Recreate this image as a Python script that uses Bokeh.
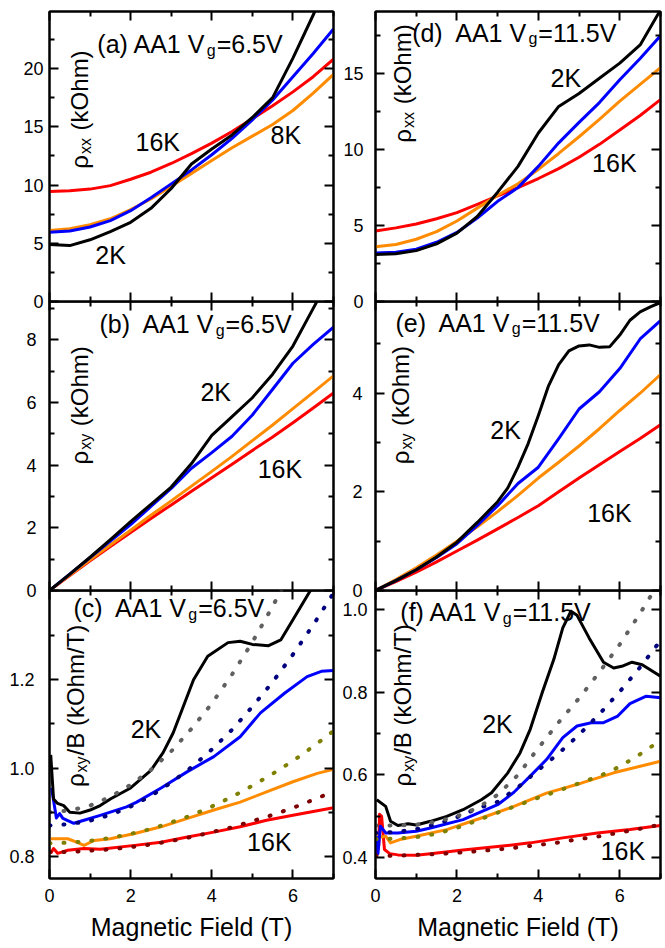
import math
from bokeh.plotting import figure
from bokeh.models import LinearAxis, Label, FixedTicker, PrintfTickFormatter, Range1d
from bokeh.layouts import column, row
from bokeh.embed import file_html
from bokeh.resources import INLINE

# ---------------- data ----------------
T_grid = [0, 0.5, 1, 1.5, 2, 2.5, 3, 3.5, 4, 4.5, 5, 5.5, 6, 6.5, 7]

# (a) rho_xx, Vg = 6.5 V
a_2K = [4.9, 4.8, 5.3, 6.0, 6.8, 8.0, 9.7, 11.8, 13.1, 14.3, 15.8, 17.5, 20.9, 24.6, 28.5]
a_4K = [5.95, 6.05, 6.4, 6.95, 7.8, 8.9, 10.1, 11.3, 12.6, 14.0, 15.6, 17.3, 19.3, 21.3, 23.4]
a_8K = [6.1, 6.25, 6.6, 7.1, 7.9, 8.8, 9.9, 11.0, 12.1, 13.2, 14.2, 15.2, 16.4, 17.9, 19.5]
a_16K = [9.45, 9.5, 9.65, 9.95, 10.5, 11.1, 11.85, 12.7, 13.6, 14.6, 15.7, 16.8, 18.0, 19.3, 20.8]

# (b) rho_xy, Vg = 6.5 V
b_2K = [0, 0.52, 1.06, 1.62, 2.2, 2.75, 3.3, 4.05, 4.95, 5.55, 6.15, 6.9, 7.8, 9.0, 10.2]
b_4K = [0, 0.52, 1.05, 1.58, 2.1, 2.68, 3.26, 3.9, 4.4, 4.92, 5.6, 6.42, 7.25, 7.85, 8.4]
b_8K = [0, 0.49, 0.98, 1.45, 1.92, 2.4, 2.86, 3.33, 3.8, 4.28, 4.78, 5.28, 5.8, 6.32, 6.85]
b_16K = [0, 0.48, 0.95, 1.4, 1.85, 2.3, 2.73, 3.17, 3.6, 4.03, 4.47, 4.9, 5.35, 5.82, 6.3]

# (c) rho_xy/B, Vg = 6.5 V
c_T_2K = [0.03, 0.1, 0.2, 0.35, 0.5, 0.75, 1.0, 1.25, 1.5, 2.0, 2.5, 2.8, 3.05, 3.3, 3.55,
          3.9, 4.4, 4.7, 5.0, 5.4, 5.7, 6.0, 6.45, 7.0]
c_2K = [1.03, 0.93, 0.92, 0.915, 0.9, 0.898, 0.905, 0.915, 0.93, 0.955, 0.995, 1.035, 1.08,
        1.14, 1.2, 1.253, 1.284, 1.287, 1.28, 1.277, 1.29, 1.336, 1.405, 1.5]
c_T_4K = [0.05, 0.17, 0.25, 0.33, 0.6, 0.85, 1.25, 1.9, 2.15, 2.75, 3.4, 4.05, 4.7, 5.2,
          5.8, 6.35, 6.7, 7.0]
c_4K = [0.955, 0.887, 0.897, 0.886, 0.875, 0.882, 0.893, 0.912, 0.923, 0.955, 0.992, 1.026,
        1.071, 1.125, 1.17, 1.207, 1.219, 1.221]
c_T_8K = [0.03, 0.45, 0.68, 0.85, 1.1, 1.5, 2.1, 2.75, 3.4, 4.05, 4.7, 5.35, 6.0, 6.6, 7.0]
c_8K = [0.84, 0.84, 0.832, 0.825, 0.836, 0.84, 0.852, 0.867, 0.886, 0.905, 0.923, 0.946,
        0.969, 0.988, 0.997]
c_T_16K = [0.03, 0.1, 0.2, 0.45, 0.85, 1.25, 2.1, 2.75, 3.4, 4.05, 4.7, 5.35, 6.0, 7.0]
c_16K = [0.807, 0.818, 0.807, 0.814, 0.818, 0.816, 0.825, 0.832, 0.844, 0.855, 0.867, 0.882,
         0.893, 0.91]
c_fit_2K = [0.9, 0.904, 0.915, 0.935, 0.962, 0.996, 1.038, 1.089, 1.146, 1.212, 1.285, 1.366,
            1.455, 1.55, 1.65]
c_fit_4K = [0.87, 0.873, 0.881, 0.894, 0.913, 0.937, 0.967, 1.002, 1.042, 1.087, 1.139, 1.195,
            1.257, 1.324, 1.396]
c_fit_8K = [0.83, 0.831, 0.835, 0.842, 0.851, 0.862, 0.877, 0.893, 0.913, 0.935, 0.96, 0.987,
            1.016, 1.049, 1.084]
c_fit_16K = [0.81, 0.81, 0.813, 0.816, 0.821, 0.827, 0.835, 0.844, 0.855, 0.866, 0.88, 0.894,
             0.91, 0.928, 0.947]

# (d) rho_xx, Vg = 11.5 V
d_2K = [3.1, 3.15, 3.35, 3.8, 4.5, 5.6, 7.2, 8.9, 11.1, 12.85, 13.7, 14.7, 15.7, 16.9, 19.2]
d_4K = [3.2, 3.25, 3.45, 3.9, 4.55, 5.5, 6.6, 7.5, 8.9, 10.45, 11.8, 13.1, 14.6, 16.0, 17.5]
d_8K = [3.6, 3.75, 4.1, 4.6, 5.3, 6.15, 7.0, 7.75, 8.7, 9.75, 10.85, 12.0, 13.2, 14.3, 15.4]
d_16K = [4.65, 4.85, 5.1, 5.45, 5.85, 6.4, 6.95, 7.5, 8.1, 8.75, 9.5, 10.35, 11.3, 12.25, 13.3]

# (e) rho_xy, Vg = 11.5 V
e_T_2K = [0, 0.5, 1, 1.5, 2, 2.5, 3, 3.25, 3.5, 3.75, 4, 4.25, 4.5, 4.75, 5, 5.25, 5.5, 5.75,
          6, 6.25, 6.5, 6.75, 7]
e_2K = [0, 0.2, 0.42, 0.68, 0.98, 1.38, 1.8, 2.08, 2.5, 2.98, 3.55, 4.15, 4.58, 4.86, 4.96,
        4.98, 4.93, 4.94, 5.18, 5.48, 5.65, 5.75, 5.84]
e_4K = [0, 0.2, 0.42, 0.67, 0.95, 1.32, 1.72, 2.17, 2.5, 3.08, 3.68, 4.03, 4.5, 5.1, 5.47]
e_8K = [0, 0.22, 0.46, 0.72, 1.0, 1.29, 1.6, 1.93, 2.28, 2.6, 2.93, 3.28, 3.65, 4.0, 4.38]
e_16K = [0, 0.18, 0.37, 0.58, 0.8, 1.02, 1.25, 1.48, 1.72, 2.0, 2.28, 2.55, 2.82, 3.08, 3.36]

# (f) rho_xy/B, Vg = 11.5 V
f_T_2K = [0.03, 0.25, 0.37, 0.55, 0.8, 1.0, 1.35, 1.75, 2.15, 2.6, 2.85, 3.25, 3.55, 3.8,
          4.1, 4.38, 4.6, 4.8, 4.95, 5.25, 5.6, 5.85, 6.05, 6.3, 6.55, 7.0]
f_2K = [0.54, 0.524, 0.488, 0.478, 0.482, 0.479, 0.488, 0.5, 0.516, 0.54, 0.557, 0.605,
        0.653, 0.71, 0.8, 0.879, 0.955, 0.995, 0.985, 0.93, 0.872, 0.858, 0.862, 0.872,
        0.866, 0.838]
f_T_4K = [0.03, 0.06, 0.12, 0.25, 0.55, 1.0, 1.35, 2.15, 3.0, 3.4, 3.8, 4.2, 4.6, 4.95, 5.3,
          5.6, 5.95, 6.25, 6.65, 7.0]
f_4K = [0.452, 0.41, 0.476, 0.46, 0.46, 0.464, 0.472, 0.492, 0.528, 0.558, 0.597, 0.637,
        0.69, 0.718, 0.726, 0.726, 0.742, 0.772, 0.79, 0.786]
f_T_8K = [0.03, 0.15, 0.25, 0.37, 0.6, 1.0, 1.75, 2.6, 3.4, 4.2, 5.05, 5.85, 7.0]
f_8K = [0.46, 0.45, 0.452, 0.436, 0.444, 0.452, 0.468, 0.496, 0.524, 0.556, 0.58, 0.605, 0.633]
f_T_16K = [0.03, 0.08, 0.1, 0.15, 0.22, 0.35, 0.55, 1.0, 1.35, 2.15, 3.0, 3.8, 4.6, 5.45,
           6.25, 7.0]
f_16K = [0.41, 0.43, 0.505, 0.5, 0.42, 0.41, 0.407, 0.406, 0.41, 0.419, 0.427, 0.436, 0.448,
         0.46, 0.468, 0.478]
f_fit_2K = [0.478, 0.478, 0.48, 0.487, 0.5, 0.52, 0.552, 0.6, 0.665, 0.727, 0.785, 0.848,
            0.915, 0.99, 1.07]
f_fit_4K = [0.46, 0.462, 0.469, 0.481, 0.498, 0.519, 0.535, 0.57, 0.612, 0.652, 0.697, 0.747,
            0.801, 0.86, 0.924]
f_fit_8K = [0.445, 0.446, 0.45, 0.458, 0.472, 0.49, 0.509, 0.527, 0.545, 0.562, 0.58, 0.597,
            0.62, 0.65, 0.683]
f_fit_16K = [0.405, 0.405, 0.407, 0.409, 0.412, 0.416, 0.42, 0.425, 0.431, 0.437, 0.445, 0.452,
             0.461, 0.47, 0.48]

X_MAJOR = [0, 2, 4, 6]
X_MINOR = [1, 3, 5, 7]
X_LABEL = "Magnetic Field (T)"

# ---------------- style ----------------
FONT = "Liberation Sans"
C_2K, C_4K, C_8K, C_16K = "#000000", "#0000ff", "#ff8c00", "#ff0000"
F_2K, F_4K, F_8K, F_16K = "#606060", "#00007f", "#7f7f00", "#7f0000"
ANN = 25
YLB = 24
SUB = 16
SHIFT = 9  # compensates the text baseline placement

WID = {' ': 278, '\u00a0': 278, '(': 333, ')': 333, 'a': 556, 'b': 556, 'c': 500, 'd': 556,
       'e': 556, 'f': 278, 'g': 556, 'h': 556, 'k': 500, 'm': 833, 'x': 500, 'y': 500,
       'A': 667, 'B': 667, 'K': 667, 'O': 778, 'T': 611, 'V': 667, '1': 556, '2': 556,
       '5': 556, '6': 556, '8': 556, '.': 278, '=': 584, '/': 278, '\u03c1': 570}


def tw(s, size):
    return sum(WID.get(ch, 556) for ch in s) * size / 1000.0


def make_panel(col, rowi, yr, ymaj, ymin, fmt, standoff):
    left = col == 0
    width = 336 if left else 329
    bl = 49 if left else 39
    fw = 284 if left else 285
    br = width - bl - fw
    if rowi == 0:
        bt, fh, bb = 11, 290, 12
    elif rowi == 1:
        bt, fh, bb = 0, 289, 12
    else:
        bt, fh, bb = 0, 288, 70
    p = figure(width=width, height=bt + fh + bb, x_range=Range1d(0, 7), y_range=Range1d(*yr),
               toolbar_location=None, output_backend="svg",
               min_border_left=bl, min_border_right=br, min_border_top=bt, min_border_bottom=bb)
    p.border_fill_color = None
    p.background_fill_color = None
    p.outline_line_color = "black"
    p.outline_line_width = 2
    p.xgrid.visible = False
    p.ygrid.visible = False

    def style(ax, tin, tout, mtin, mtout, labels=True):
        ax.axis_line_color = "black"
        ax.axis_line_width = 2
        ax.major_tick_line_width = 2
        ax.minor_tick_line_width = 2
        ax.major_tick_in = tin
        ax.major_tick_out = tout
        ax.minor_tick_in = mtin
        ax.minor_tick_out = mtout
        ax.major_label_text_font = FONT
        if labels:
            ax.major_label_text_color = "black"
            ax.major_label_text_font_size = "18px"
        else:
            ax.major_label_text_color = None
            ax.major_label_text_font_size = "0px"
            ax.major_label_standoff = 0

    yt = FixedTicker(ticks=ymaj, minor_ticks=ymin)
    xt = FixedTicker(ticks=X_MAJOR, minor_ticks=X_MINOR)

    ya = p.yaxis[0]
    ya.ticker = yt
    ya.formatter = PrintfTickFormatter(format=fmt)
    style(ya, 9, 0, 5, 0)
    ya.major_label_standoff = standoff

    yr_ax = LinearAxis(ticker=yt)
    style(yr_ax, 9, 0, 5, 0, labels=False)
    p.add_layout(yr_ax, "right")

    xa = p.xaxis[0]
    xa.ticker = xt
    if rowi < 2:
        style(xa, 9, 9, 5, 5, labels=False)
    else:
        style(xa, 9, 0, 5, 0)
        xa.major_label_standoff = 10
        xa.axis_label = X_LABEL
        xa.axis_label_text_font = FONT
        xa.axis_label_text_font_size = "25px"
        xa.axis_label_text_font_style = "normal"
        xa.axis_label_text_color = "black"
        xa.axis_label_standoff = 8
    if rowi == 0:
        xt_ax = LinearAxis(ticker=xt)
        style(xt_ax, 9, 0, 5, 0, labels=False)
        p.add_layout(xt_ax, "above")
    return p


def lab(p, x, y, text, size=ANN, dx=0, dy=0, angle=0.0):
    p.add_layout(Label(x=x, y=y, text=text, text_font=FONT, text_font_size=f"{size}px",
                       text_color="black", x_offset=dx, y_offset=dy, angle=angle,
                       text_align="left", text_baseline="alphabetic"))


def ann(p, x, y, text):
    lab(p, x, y, text, dy=SHIFT)


def title(p, x, y, main, sub, tail):
    lab(p, x, y, main, dy=SHIFT)
    w = tw(main, ANN)
    lab(p, x, y, sub, SUB, dx=w + 1, dy=SHIFT - 6)
    lab(p, x, y, tail, dx=w + tw(sub, SUB) + 2, dy=SHIFT)


def ylab(p, x, y, sub, tail, gap):
    a = math.pi / 2
    lab(p, x, y, "\u03c1", YLB, dx=-SHIFT + 1, angle=a)
    w = tw("\u03c1", YLB)
    lab(p, x, y, sub, SUB, dx=-SHIFT + 7, dy=w + 1, angle=a)
    lab(p, x, y, tail, YLB, dx=-SHIFT + 1, dy=w + tw(sub, SUB) + gap + 2, angle=a)


def solid(p, xs, ys, c):
    p.line(xs, ys, line_color=c, line_width=3, line_join="round")


def dotted(p, xs, ys, c):
    p.line(xs, ys, line_color=c, line_width=4, line_dash="1 13", line_cap="round")


SPACE = tw(" ", YLB)

# ---- (a)
pa = make_panel(0, 0, (0, 24.9), [0, 5, 10, 15, 20], [2.5, 7.5, 12.5, 17.5, 22.5], "%d", 6)
for ys, c in ((a_16K, C_16K), (a_8K, C_8K), (a_4K, C_4K), (a_2K, C_2K)):
    solid(pa, T_grid, ys, c)
title(pa, 1.18, 21.3, "(a) AA1 V", "g", "=6.5V")
ann(pa, 2.12, 12.9, "16K")
ann(pa, 5.45, 13.5, "8K")
ann(pa, 1.13, 3.2, "2K")
ylab(pa, 0.94, 11.4, "xx", "(kOhm)", SPACE)

# ---- (b)
pb = make_panel(0, 1, (0, 9.22), [0, 2, 4, 6, 8], [1, 3, 5, 7, 9], "%d", 13)
for ys, c in ((b_16K, C_16K), (b_8K, C_8K), (b_4K, C_4K), (b_2K, C_2K)):
    solid(pb, T_grid, ys, c)
title(pb, 1.23, 8.2, "(b)\u00a0 AA1 V", "g", "=6.5V")
ann(pb, 3.72, 6.05, "2K")
ann(pb, 5.13, 3.58, "16K")
ylab(pb, 0.94, 4.02, "xy", "(kOhm)", SPACE)

# ---- (c)
pc = make_panel(0, 2, (0.75, 1.402), [0.8, 1.0, 1.2], [0.9, 1.1, 1.3], "%.1f", 15)
solid(pc, c_T_16K, c_16K, C_16K)
solid(pc, c_T_8K, c_8K, C_8K)
solid(pc, c_T_4K, c_4K, C_4K)
solid(pc, c_T_2K, c_2K, C_2K)
for ys, c in ((c_fit_16K, F_16K), (c_fit_8K, F_8K), (c_fit_4K, F_4K), (c_fit_2K, F_2K)):
    dotted(pc, T_grid, ys, c)
title(pc, 0.59, 1.342, "(c)\u00a0 AA1 V", "g", "=6.5V")
ann(pc, 2.0, 1.067, "2K")
ann(pc, 4.87, 0.812, "16K")
ylab(pc, 0.84, 0.957, "xy", "/B (kOhm/T)", 0)

# ---- (d)
pd_ = make_panel(1, 0, (0, 19.1), [0, 5, 10, 15], [2.5, 7.5, 12.5, 17.5], "%d", 12)
for ys, c in ((d_16K, C_16K), (d_8K, C_8K), (d_4K, C_4K), (d_2K, C_2K)):
    solid(pd_, T_grid, ys, c)
title(pd_, 0.9, 17.1, "(d)\u00a0 AA1 V", "g", "=11.5V")
ann(pd_, 4.3, 14.1, "2K")
ann(pd_, 5.32, 8.5, "16K")
ylab(pd_, 0.86, 10.46, "xx", "(kOhm)", SPACE)

# ---- (e)
pe = make_panel(1, 1, (0, 5.86), [0, 2, 4], [1, 3, 5], "%d", 13)
solid(pe, T_grid, e_16K, C_16K)
solid(pe, T_grid, e_8K, C_8K)
solid(pe, T_grid, e_4K, C_4K)
solid(pe, e_T_2K, e_2K, C_2K)
title(pe, 0.49, 5.25, "(e)\u00a0 AA1 V", "g", "=11.5V")
ann(pe, 2.82, 3.07, "2K")
ann(pe, 5.2, 1.39, "16K")
ylab(pe, 0.81, 2.56, "xy", "(kOhm)", SPACE)

# ---- (f)
pf = make_panel(1, 2, (0.35, 1.045), [0.4, 0.6, 0.8, 1.0], [0.5, 0.7, 0.9], "%.1f", 8)
solid(pf, f_T_16K, f_16K, C_16K)
solid(pf, f_T_8K, f_8K, C_8K)
solid(pf, f_T_4K, f_4K, C_4K)
solid(pf, f_T_2K, f_2K, C_2K)
for ys, c in ((f_fit_16K, F_16K), (f_fit_8K, F_8K), (f_fit_4K, F_4K), (f_fit_2K, F_2K)):
    dotted(pf, T_grid, ys, c)
title(pf, 0.61, 0.971, "(f) AA1 V", "g", "=11.5V")
ann(pf, 2.62, 0.702, "2K")
ann(pf, 5.53, 0.395, "16K")
ylab(pf, 0.86, 0.572, "xy", "/B (kOhm/T)", 0)

layout = column(
    row(pa, pd_),
    row(pb, pe, margin=(-12, 0, 0, 0)),
    row(pc, pf, margin=(-12, 0, 0, 0)),
)

open("out.html", "w").write(file_html(layout, INLINE))
